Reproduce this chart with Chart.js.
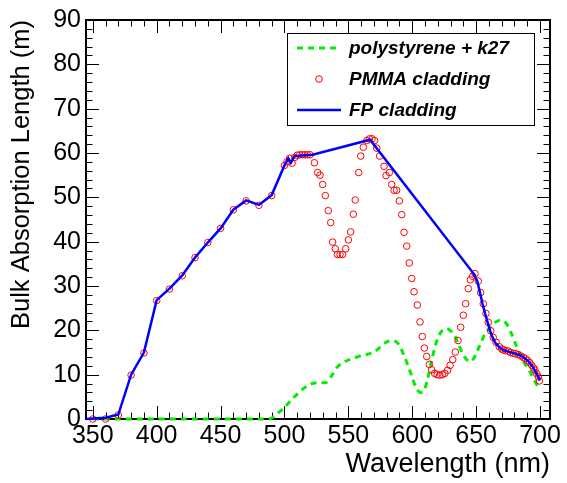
<!DOCTYPE html>
<html>
<head>
<meta charset="utf-8">
<script src="https://cdn.jsdelivr.net/npm/chart.js@4.4.1/dist/chart.umd.min.js"></script>
<style>
html,body{margin:0;padding:0;background:#fff;}
#wrap{width:567px;height:483px;position:relative;}
</style>
</head>
<body>
<div id="wrap"><canvas id="c" width="567" height="483"></canvas></div>
<script>
// ---------- data ----------
const seriesNames = ["polystyrene + k27", "PMMA cladding", "FP cladding"];

const psWavelength = [350,360,370,380,390,400,410,420,430,440,450,460,470,480,488,492,496,500,505,510,515,520,525,530,533,537,541,545,550,555,560,565,570,575,580,585,588,591,594,597,600,603,606,609,612,615,618,621,624,627,630,633,636,639,642,645,648,651,654,657,660,663,666,669,672,675,678,681,684,687,690,693,696,699,700];
const psLength     = [0,0,0,0,0,0,0,0,0,0,0,0,0,0,0,0.6,1.6,2.6,4.2,5.6,6.9,7.8,8.2,8.2,8.3,9.8,11.6,12.6,13.3,13.8,14.3,14.6,15.1,16.2,17.4,17.7,17.3,16.0,14.0,11.8,9.4,7.0,6.0,6.3,9.0,13.0,16.5,18.9,20.1,20.4,19.9,18.9,17.0,15.0,13.6,12.9,13.6,15.4,17.4,19.2,20.4,21.4,22.0,22.3,22.0,20.9,19.0,16.8,14.8,13.0,11.6,10.2,8.5,7.0,6.6];

const pmmaWavelength = [350,360,370,380,390,400,410,420,430,440,450,460,470,480,490,500,502,504,506,508,510,512,514,516,518,520,523.4,526,527.8,529.9,532,534.3,536.2,537.7,539.8,541.4,543.5,545.5,547.9,550,551.8,553.9,555.4,558.1,559.7,561.7,564.5,566.5,568.5,570.5,572.2,574.5,577.9,579.5,582.1,583.9,585.8,587.8,589.9,591.8,593.6,595.7,597.7,599.6,601.4,604,606.1,607.9,609.5,611.3,613.4,615.2,617.5,619.5,621.5,623.5,625.5,627.7,629.6,631.7,633.7,635.8,637.9,640,641.8,643.9,645.5,647.3,649.1,651.7,653.5,655.6,657.7,659.5,661.4,663.4,665.6,668.1,670,671.3,673,675.2,677,679.1,681,683,685,686.9,688.5,690.3,692,693.5,695,696.1,697.5,698.7,699.5];
const pmmaLength     = [0,0,0.9,9.9,14.9,26.7,29.3,32.3,36.4,39.8,43.0,47.2,49.2,48.2,50.4,57.2,58.0,58.8,57.7,59.0,59.5,59.6,59.6,59.6,59.6,59.6,57.8,55.6,55.0,52.9,50.4,47.0,44.3,39.9,38.4,37.1,37.1,37.1,38.4,40.4,42.2,46.2,49.4,55.6,59.3,61.3,62.8,63.2,63.2,62.8,61.1,59.3,57.0,54.9,55.6,52.9,51.6,51.6,49.2,46.1,42.1,39.0,35.2,31.7,28.7,25.7,21.9,18.6,16.0,14.1,12.3,11.1,10.3,10.0,9.9,10.0,10.3,11.0,12.1,13.4,15.1,17.7,20.7,23.4,26.0,29.4,31.4,32.2,32.8,31.1,28.5,26.0,23.8,21.8,19.9,18.4,17.3,16.3,15.8,15.6,15.4,15.3,15.0,14.8,14.7,14.5,14.2,13.9,13.6,13.2,12.7,12.1,11.5,11.0,10.2,9.5,8.6];

const fpWavelength = [345,350,360,370,380,390,400,410,420,430,440,450,460,470,480,490,500,503,505,508,522,567,648,651,653,655,657,659,661,663,665,668,671,675,680,685,688,691,694,697,700];
const fpLength     = [0,0.1,0.3,1.0,10.0,15.0,26.8,29.4,32.4,36.4,39.8,43.0,47.2,49.3,48.3,50.5,57.2,58.8,57.8,59.3,59.6,63.0,32.8,31.0,28.5,26.0,23.8,21.8,19.8,18.3,17.2,16.2,15.6,15.2,14.8,14.3,13.7,13.0,11.9,10.4,8.7];

const xTicks = [350,400,450,500,550,600,650,700];
const yTicks = [0,10,20,30,40,50,60,70,80,90];
const xMinorStep = 10;
const yMinorStep = 2;
const xRange = [344.7, 707.8];
const yRange = [0, 90];

// ---------- helpers ----------
const pts = (xs, ys) => xs.map((x, i) => ({x: x, y: ys[i]}));
const FONT = "'Liberation Sans', Arial, Helvetica, sans-serif";
Chart.defaults.font.family = FONT;
Chart.defaults.color = '#000';

const frameTicks = {
  id: 'frameTicks',
  beforeDatasetsDraw(chart) {
    const {ctx, chartArea: a, scales: {x, y}} = chart;
    ctx.save();
    ctx.strokeStyle = '#000';
    ctx.lineWidth = 1;
    ctx.beginPath();
    for (let v = xTicks[0]; v <= xTicks[xTicks.length - 1] + 1e-6; v += xMinorStep) {
      const px = Math.round(x.getPixelForValue(v)) + 0.5;
      const major = xTicks.includes(Math.round(v));
      const len = major ? 13 : 6.5;
      ctx.moveTo(px, a.bottom); ctx.lineTo(px, a.bottom - len);
      ctx.moveTo(px, a.top); ctx.lineTo(px, a.top + len);
    }
    for (let v = yRange[0]; v <= yRange[1] + 1e-6; v += yMinorStep) {
      const py = Math.round(y.getPixelForValue(v)) + 0.5;
      const major = yTicks.includes(Math.round(v));
      const len = major ? 13 : 6.5;
      ctx.moveTo(a.left, py); ctx.lineTo(a.left + len, py);
      ctx.moveTo(a.right, py); ctx.lineTo(a.right - len, py);
    }
    ctx.stroke();
    ctx.lineWidth = 2;
    ctx.strokeRect(a.left, a.top, a.right - a.left, a.bottom - a.top);
    ctx.restore();
  }
};

const boxLegend = {
  id: 'boxLegend',
  afterDraw(chart) {
    const {ctx, chartArea: a} = chart;
    const ds = chart.data.datasets;
    const L = a.right - 263, T = a.top + 13, W = 247, H = 92;
    ctx.save();
    ctx.fillStyle = '#fff';
    ctx.fillRect(L, T, W, H);
    ctx.strokeStyle = '#000';
    ctx.lineWidth = 1;
    ctx.strokeRect(L + 0.5, T + 0.5, W, H);
    const rows = [15, 46, 77];
    ds.forEach((d, i) => {
      const cy = T + rows[i];
      if (d.showLine) {
        ctx.save();
        ctx.strokeStyle = d.borderColor;
        ctx.lineWidth = d.borderWidth;
        ctx.setLineDash(d.borderDash || []);
        ctx.beginPath();
        ctx.moveTo(L + 10, cy); ctx.lineTo(L + 54, cy);
        ctx.stroke();
        ctx.restore();
      } else {
        ctx.save();
        ctx.strokeStyle = d.pointBorderColor;
        ctx.lineWidth = d.pointBorderWidth;
        ctx.beginPath();
        ctx.arc(L + 32, cy, d.pointRadius, 0, Math.PI * 2);
        ctx.stroke();
        ctx.restore();
      }
      ctx.fillStyle = '#000';
      ctx.font = "italic bold 19px " + FONT;
      ctx.textBaseline = 'middle';
      ctx.textAlign = 'left';
      ctx.fillText(d.label, L + 62, cy + 1);
    });
    ctx.restore();
  }
};

new Chart(document.getElementById('c'), {
  type: 'scatter',
  data: {
    datasets: [
      {
        label: seriesNames[0],
        data: pts(psWavelength, psLength),
        showLine: true,
        borderColor: '#00ee00',
        borderWidth: 3,
        borderDash: [6, 5],
        pointRadius: 0,
        tension: 0.3,
        clip: 3,
        order: 2
      },
      {
        label: seriesNames[1],
        data: pts(pmmaWavelength, pmmaLength),
        showLine: false,
        pointStyle: 'circle',
        pointRadius: 3.3,
        pointBorderWidth: 1,
        pointBorderColor: '#ff0000',
        pointBackgroundColor: 'rgba(0,0,0,0)',
        borderColor: '#ff0000',
        backgroundColor: 'rgba(0,0,0,0)',
        clip: 5,
        order: 1
      },
      {
        label: seriesNames[2],
        data: pts(fpWavelength, fpLength),
        showLine: true,
        borderColor: '#0000ff',
        borderWidth: 2.5,
        pointRadius: 0,
        tension: 0,
        clip: 3,
        order: 0
      }
    ]
  },
  options: {
    responsive: false,
    animation: false,
    devicePixelRatio: 1,
    layout: {padding: {top: 17, right: 17, left: 0, bottom: 0}},
    plugins: {legend: {display: false}, tooltip: {enabled: false}},
    scales: {
      x: {
        type: 'linear',
        min: xRange[0], max: xRange[1],
        afterBuildTicks: s => { s.ticks = xTicks.map(v => ({value: v})); },
        afterFit: s => { s.height = 64; },
        grid: {display: false, drawTicks: false},
        border: {display: false},
        ticks: {font: {size: 25}, padding: 2, maxRotation: 0, autoSkip: false},
        title: {display: true, text: 'Wavelength (nm)', align: 'end', font: {size: 27}, padding: {top: 0, bottom: 2}}
      },
      y: {
        type: 'linear',
        min: yRange[0], max: yRange[1],
        afterBuildTicks: s => { s.ticks = yTicks.map(v => ({value: v})); },
        afterFit: s => { s.width = 86; },
        grid: {display: false, drawTicks: false},
        border: {display: false},
        ticks: {font: {size: 25}, padding: 5, autoSkip: false},
        title: {display: true, text: 'Bulk Absorption Length (m)', align: 'end', font: {size: 25.5}, padding: {top: 7, bottom: 0}}
      }
    }
  },
  plugins: [frameTicks, boxLegend]
});
</script>
</body>
</html>
